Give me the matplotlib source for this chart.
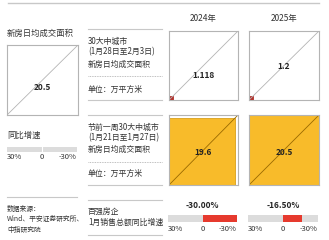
import matplotlib.pyplot as plt
from matplotlib.patches import Rectangle

plt.rcParams['font.family'] = ['Noto Sans CJK SC', 'DejaVu Sans']

W, H = 329, 240

years = ["2024年", "2025年"]
area_city = [1.118, 1.2]          # 30大中城市 (1月28日至2月3日)
area_pre = [19.6, 20.5]           # 节前一周 (1月21日至1月27日)
sales_growth = [-30.0, -16.5]     # 百强房企 1月销售总额同比增速
legend_area = 20.5
growth_ticks = ["30%", "0", "-30%"]
growth_max = 30

GRAY_TXT = "#333333"
LINE = "#c8c8c8"
BOX = "#b4b4b4"
YELLOW = "#f8bb2a"
RED = "#e63a2e"
DARKRED = "#b2302a"
BARBG = "#dcdcdc"

fig = plt.figure(figsize=(W / 100, H / 100), dpi=100)
bg = fig.add_axes([0, 0, 1, 1])
bg.set_xlim(0, W)
bg.set_ylim(H, 0)
bg.axis("off")


def px_axes(x0, y0, x1, y1):
    return fig.add_axes([x0 / W, 1 - y1 / H, (x1 - x0) / W, (y1 - y0) / H])


def square(rect, value, ref, fill, label, ly, diag_color):
    ax = px_axes(*rect)
    ax.set_xlim(0, ref)
    ax.set_ylim(0, ref)
    ax.set_xticks([])
    ax.set_yticks([])
    for s in ax.spines.values():
        s.set_color(BOX)
        s.set_linewidth(0.8)
    if fill is not None:
        ec = "#d9a01a" if fill == YELLOW else fill
        ax.add_patch(Rectangle((0, 0), value, value, facecolor=fill, edgecolor=ec, lw=0.6))
    ax.plot([0, ref], [0, ref], color=diag_color, lw=0.6)
    ax.text(ref / 2, ref * ly, label, ha="center", va="center", fontsize=6,
            fontweight="bold", color="#222222")
    return ax


def growth_bar(rect, value):
    ax = px_axes(*rect)
    ax.set_xlim(growth_max, -growth_max)
    ax.set_ylim(0, 1)
    ax.axis("off")
    ax.barh(0.5, 2 * growth_max, left=-growth_max, height=1, color=BARBG)
    if value is not None:
        ax.barh(0.5, value, left=0, height=1, color=RED)
    else:
        ax.axvline(0, color="white", lw=0.8)
    return ax


# top rule
bg.plot([8, 319], [3, 3], color=LINE, lw=1.0)

# year headers
for x, y in zip([203, 284], years):
    bg.text(x, 19, y, ha="center", va="center", fontsize=6, color=GRAY_TXT)

# left legend
bg.text(7, 33, "新房日均成交面积", ha="left", va="center", fontsize=6, color=GRAY_TXT)
square((7, 45, 78, 115), legend_area, legend_area, None, f"{legend_area}", 0.39, BOX)
bg.text(7, 135, "同比增速", ha="left", va="center", fontsize=6, color=GRAY_TXT)
growth_bar((7, 147, 77, 152), None)
bg.text(7, 157, growth_ticks[0], ha="left", va="center", fontsize=5.5, color=GRAY_TXT)
bg.text(42, 157, growth_ticks[1], ha="center", va="center", fontsize=5.5, color=GRAY_TXT)
bg.text(77, 157, growth_ticks[2], ha="right", va="center", fontsize=5.5, color=GRAY_TXT)
bg.plot([7, 77], [197, 197], color=LINE, lw=0.8)
for y, t in zip([209, 219, 230], ["数据来源：", "Wind、平安证券研究所、", "中指研究院"]):
    bg.text(7, y, t, ha="left", va="center", fontsize=4.9, color=GRAY_TXT)

# middle captions
mx0, mx1 = 88, 162
fs_mid = 5.7
blocks = [
    (29, [(41, "30大中城市"), (52, "(1月28日至2月3日)"), (64, "新房日均成交面积")], 76, 89, 100),
    (115, [(127, "节前一周30大中城市"), (138, "(1月21日至1月27日)"), (149, "新房日均成交面积")], 162, 173, 185),
]
for top, lines, dot_y, unit_y, bot in blocks:
    bg.plot([mx0, mx1], [top, top], color=LINE, lw=0.8)
    for y, t in lines:
        bg.text(mx0, y, t, ha="left", va="center", fontsize=fs_mid, color=GRAY_TXT)
    bg.plot([mx0, mx1], [dot_y, dot_y], color="#aaaaaa", lw=0.6, ls=(0, (1, 1)))
    bg.text(mx0, unit_y, "单位：万平方米", ha="left", va="center", fontsize=fs_mid, color=GRAY_TXT)
    bg.plot([mx0, mx1], [bot, bot], color=LINE, lw=0.8)

bg.plot([mx0, mx1], [200, 200], color=LINE, lw=0.8)
bg.text(mx0, 212, "百强房企", ha="left", va="center", fontsize=fs_mid, color=GRAY_TXT)
bg.text(mx0, 222, "1月销售总额同比增速", ha="left", va="center", fontsize=fs_mid, color=GRAY_TXT)
bg.plot([mx0, mx1], [235, 235], color=LINE, lw=0.8)

# data columns
cols = [(169, 238), (249, 319)]
city_ly = [0.36, 0.49]
for i, (x0, x1) in enumerate(cols):
    square((x0, 31, x1, 100), area_city[i], legend_area, DARKRED, f"{area_city[i]}", city_ly[i], BOX)
    square((x0, 115, x1, 185), area_pre[i], legend_area, YELLOW, f"{area_pre[i]}", 0.47, "#9a6a00")
    bx0, bx1 = x0 - 1, x1 - 1
    growth_bar((bx0, 215, bx1, 222), sales_growth[i])
    bg.text((bx0 + bx1) / 2, 205, f"{sales_growth[i]:.2f}%", ha="center", va="center",
            fontsize=6, fontweight="bold", color="#222222")
    bg.text(bx0, 229, growth_ticks[0], ha="left", va="center", fontsize=5.5, color=GRAY_TXT)
    bg.text((bx0 + bx1) / 2, 229, growth_ticks[1], ha="center", va="center", fontsize=5.5, color=GRAY_TXT)
    bg.text(bx1, 229, growth_ticks[2], ha="right", va="center", fontsize=5.5, color=GRAY_TXT)

fig.savefig("out.png", dpi=100)
